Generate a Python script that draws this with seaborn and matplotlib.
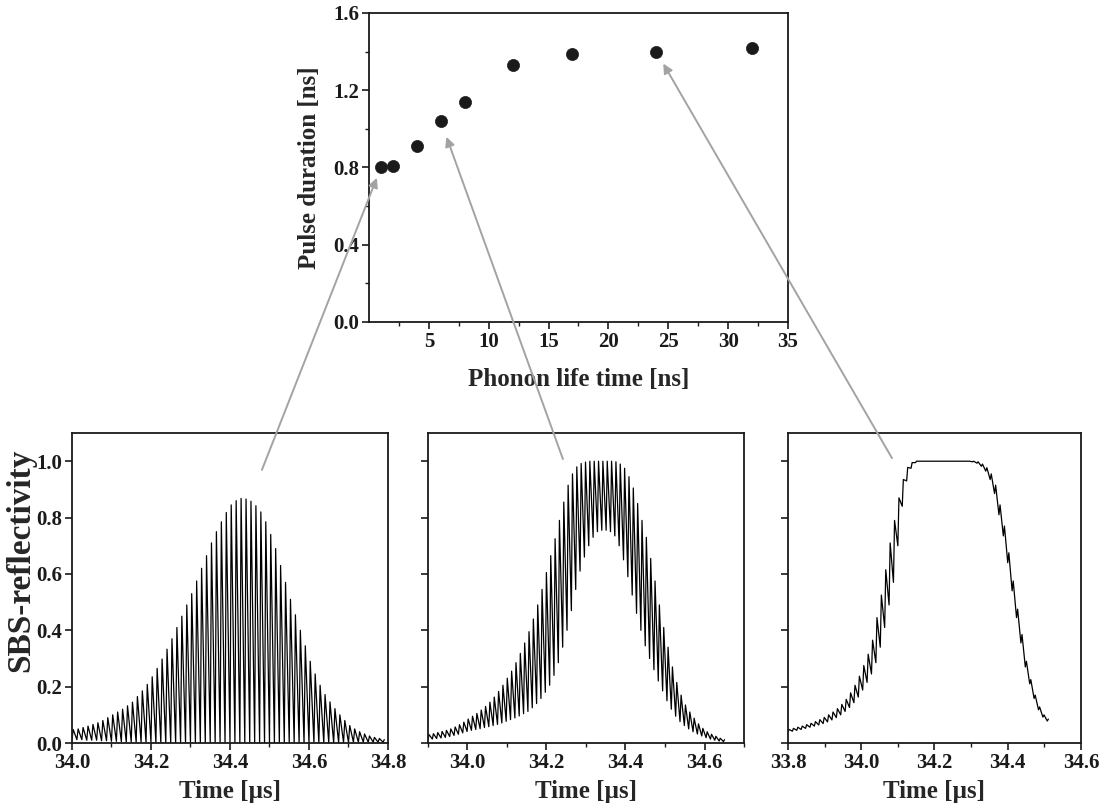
import numpy as np
import pandas as pd
import matplotlib
matplotlib.use("Agg")
import matplotlib.pyplot as plt
import seaborn as sns
from matplotlib.patches import ConnectionPatch
from matplotlib.ticker import MultipleLocator, FixedLocator

# ---- pulse duration vs. phonon life time ----
phonon_lifetime_ns = [1, 2, 4, 6, 8, 12, 17, 24, 32]
pulse_duration_ns = [0.80, 0.81, 0.91, 1.04, 1.14, 1.33, 1.39, 1.40, 1.42]

# ---- SBS reflectivity traces: one peak and one trough value per oscillation cycle ----
# tau = 1 ns
trace1_start_us = 34.0
trace1_period_us = 0.0125
trace1_peaks = [0.048, 0.050, 0.055, 0.060, 0.066, 0.072, 0.080, 0.090, 0.100, 0.110,
                0.120, 0.132, 0.145, 0.165, 0.185, 0.208, 0.235, 0.265, 0.298, 0.333,
                0.370, 0.410, 0.450, 0.490, 0.530, 0.575, 0.620, 0.665, 0.710, 0.750,
                0.785, 0.818, 0.845, 0.860, 0.868, 0.866, 0.858, 0.842, 0.820, 0.785,
                0.740, 0.690, 0.630, 0.570, 0.510, 0.455, 0.400, 0.345, 0.290, 0.245,
                0.205, 0.172, 0.146, 0.122, 0.100, 0.080, 0.062, 0.050, 0.040, 0.032,
                0.025, 0.020, 0.016, 0.012]
trace1_troughs = [0.012, 0.012, 0.012, 0.010, 0.010, 0.010, 0.008, 0.008, 0.006, 0.006,
                  0.005, 0.004, 0.004, 0.003, 0.003, 0.002, 0.002, 0.001, 0.001, 0.0,
                  0.0, 0.0, 0.0, 0.0, 0.0, 0.0, 0.0, 0.0, 0.0, 0.0,
                  0.0, 0.0, 0.0, 0.0, 0.0, 0.0, 0.0, 0.0, 0.0, 0.0,
                  0.0, 0.0, 0.0, 0.0, 0.0, 0.0, 0.0, 0.0, 0.0, 0.0,
                  0.0, 0.0, 0.001, 0.001, 0.002, 0.002, 0.002, 0.003, 0.003, 0.003,
                  0.003, 0.003, 0.003, 0.003]

# tau = 6 ns
trace2_start_us = 33.9
trace2_period_us = 0.011
trace2_peaks = [0.030, 0.033, 0.037, 0.041, 0.045, 0.050, 0.057, 0.065, 0.074, 0.085,
                0.095, 0.105, 0.117, 0.130, 0.145, 0.163, 0.183, 0.205, 0.230, 0.255,
                0.285, 0.318, 0.355, 0.395, 0.440, 0.490, 0.545, 0.605, 0.665, 0.725,
                0.790, 0.855, 0.915, 0.955, 0.980, 0.992, 0.997, 1.000, 1.000, 1.000,
                1.000, 1.000, 1.000, 0.998, 0.990, 0.975, 0.945, 0.905, 0.850, 0.790,
                0.730, 0.655, 0.575, 0.490, 0.410, 0.340, 0.270, 0.215, 0.170, 0.135,
                0.110, 0.088, 0.068, 0.052, 0.040, 0.031, 0.024, 0.017, 0.012]
trace2_troughs = [0.012, 0.014, 0.016, 0.018, 0.020, 0.023, 0.027, 0.031, 0.036, 0.041,
                  0.045, 0.048, 0.051, 0.055, 0.058, 0.062, 0.066, 0.071, 0.077, 0.083,
                  0.089, 0.096, 0.104, 0.112, 0.125, 0.140, 0.158, 0.180, 0.205, 0.240,
                  0.285, 0.340, 0.400, 0.470, 0.545, 0.610, 0.660, 0.700, 0.730, 0.750,
                  0.755, 0.755, 0.750, 0.735, 0.700, 0.650, 0.590, 0.525, 0.460, 0.400,
                  0.345, 0.300, 0.260, 0.220, 0.185, 0.150, 0.120, 0.095, 0.076, 0.062,
                  0.050, 0.040, 0.032, 0.025, 0.019, 0.014, 0.010, 0.007, 0.005]

# tau = 24 ns
trace3_start_us = 33.8
trace3_period_us = 0.012
trace3_peaks = [0.048, 0.052, 0.056, 0.060, 0.065, 0.070, 0.076, 0.083, 0.091, 0.100,
                0.110, 0.122, 0.137, 0.155, 0.178, 0.205, 0.237, 0.275, 0.315, 0.365,
                0.445, 0.525, 0.615, 0.710, 0.790, 0.870, 0.935, 0.978, 0.995, 1.000,
                1.000, 1.000, 1.000, 1.000, 1.000, 1.000, 1.000, 1.000, 1.000, 1.000,
                1.000, 1.000, 1.000, 0.998, 0.990, 0.977, 0.955, 0.915, 0.845, 0.770,
                0.675, 0.575, 0.475, 0.385, 0.290, 0.225, 0.170, 0.128, 0.100, 0.085]
trace3_troughs = [0.040, 0.042, 0.045, 0.048, 0.052, 0.056, 0.060, 0.064, 0.069, 0.075,
                  0.082, 0.090, 0.100, 0.112, 0.126, 0.143, 0.163, 0.188, 0.215, 0.245,
                  0.285, 0.340, 0.410, 0.490, 0.570, 0.700, 0.840, 0.930, 0.975, 0.995,
                  1.000, 1.000, 1.000, 1.000, 1.000, 1.000, 1.000, 1.000, 1.000, 1.000,
                  1.000, 1.000, 0.998, 0.993, 0.982, 0.965, 0.935, 0.885, 0.810, 0.735,
                  0.640, 0.540, 0.445, 0.355, 0.270, 0.210, 0.158, 0.118, 0.092, 0.078]

# ---- styling ----
sns.set_theme(style="ticks")
plt.rcParams["font.family"] = ["Liberation Serif", "DejaVu Serif"]
plt.rcParams["font.weight"] = "bold"
plt.rcParams["axes.labelweight"] = "bold"
plt.rcParams["axes.edgecolor"] = "#1a1a1a"
plt.rcParams["axes.linewidth"] = 1.3
plt.rcParams["xtick.color"] = "#1a1a1a"
plt.rcParams["ytick.color"] = "#1a1a1a"
plt.rcParams["text.color"] = "#1a1a1a"

TICK_FS = 15
LABEL_FS = 18
INK = "#1a1a1a"


def build_trace(start, period, peaks, troughs, rise=0.25):
    """Turn per-cycle trough/peak values into a time series for the line plot."""
    t, r = [], []
    for k, (p, q) in enumerate(zip(peaks, troughs)):
        tk = start + k * period
        t += [tk, tk + rise * period]
        r += [q, p]
    return pd.DataFrame({"time": t, "refl": r})


def style_axis(ax):
    ax.tick_params(axis="both", which="major", direction="out", length=5, width=1.2,
                   labelsize=TICK_FS, pad=2)
    ax.tick_params(axis="both", which="minor", direction="out", length=3, width=1.0)
    ax.tick_params(top=False, right=False, which="both")
    for s in ax.spines.values():
        s.set_visible(True)
        s.set_linewidth(1.3)
        s.set_color(INK)
    for lab in ax.get_xticklabels() + ax.get_yticklabels():
        lab.set_fontweight("bold")


fig = plt.figure(figsize=(11.07, 8.10), dpi=100)
fig.patch.set_facecolor("white")

# top scatter panel
ax_top = fig.add_axes([0.3333, 0.6025, 0.3785, 0.3815])
sns.scatterplot(x=phonon_lifetime_ns, y=pulse_duration_ns, ax=ax_top, s=76,
                color=INK, edgecolor=INK, linewidth=0.5, zorder=3)
ax_top.set_xlim(0, 35)
ax_top.set_ylim(0, 1.6)
ax_top.xaxis.set_major_locator(FixedLocator([5, 10, 15, 20, 25, 30, 35]))
ax_top.xaxis.set_minor_locator(FixedLocator([2.5, 7.5, 12.5, 17.5, 22.5, 27.5, 32.5]))
ax_top.yaxis.set_major_locator(MultipleLocator(0.4))
ax_top.yaxis.set_minor_locator(MultipleLocator(0.2))
ax_top.yaxis.set_major_formatter(matplotlib.ticker.FormatStrFormatter("%.1f"))
ax_top.set_xlabel("Phonon life time [ns]", fontsize=LABEL_FS, fontweight="bold", labelpad=12)
ax_top.set_ylabel("Pulse duration [ns]", fontsize=LABEL_FS, fontweight="bold", labelpad=9)
style_axis(ax_top)

# bottom trace panels
panels = [
    ([0.0650, 0.0827, 0.2855, 0.3827], (34.0, 34.8),
     build_trace(trace1_start_us, trace1_period_us, trace1_peaks, trace1_troughs)),
    ([0.3866, 0.0827, 0.2855, 0.3827], (33.9, 34.7),
     build_trace(trace2_start_us, trace2_period_us, trace2_peaks, trace2_troughs)),
    ([0.7118, 0.0827, 0.2647, 0.3827], (33.8, 34.6),
     build_trace(trace3_start_us, trace3_period_us, trace3_peaks, trace3_troughs)),
]

bottom_axes = []
for i, (rect, xlim, df) in enumerate(panels):
    ax = fig.add_axes(rect)
    sns.lineplot(data=df, x="time", y="refl", ax=ax, estimator=None, sort=False,
                 color="black", linewidth=0.9)
    ax.set_xlim(*xlim)
    ax.set_ylim(0, 1.1)
    ax.xaxis.set_major_locator(MultipleLocator(0.2))
    ax.xaxis.set_minor_locator(MultipleLocator(0.1))
    ax.yaxis.set_major_locator(MultipleLocator(0.2))
    ax.xaxis.set_major_formatter(matplotlib.ticker.FormatStrFormatter("%.1f"))
    ax.yaxis.set_major_formatter(matplotlib.ticker.FormatStrFormatter("%.1f"))
    ax.set_xlabel("Time [µs]", fontsize=LABEL_FS, fontweight="bold", labelpad=5)
    if i == 0:
        ax.set_ylabel("SBS-reflectivity", fontsize=24, fontweight="bold")
        ax.yaxis.set_label_coords(-0.112, 0.59)
    else:
        ax.set_ylabel("")
        ax.tick_params(axis="y", labelleft=False)
    style_axis(ax)
    bottom_axes.append(ax)

# grey arrows linking each trace to its point in the scatter panel
links = [(bottom_axes[0], (0.601, 0.881), 0, 8),
         (bottom_axes[1], (0.427, 0.916), 3, 12),
         (bottom_axes[2], (0.355, 0.919), 7, 10)]
for ax, tail, idx, shrink in links:
    con = ConnectionPatch(xyA=tail, coordsA=ax.transAxes,
                          xyB=(phonon_lifetime_ns[idx], pulse_duration_ns[idx]),
                          coordsB=ax_top.transData,
                          arrowstyle="-|>", shrinkA=0, shrinkB=shrink,
                          mutation_scale=14, color="#a3a3a3", linewidth=1.4)
    fig.add_artist(con)

fig.savefig("out.png", dpi=100, facecolor="white")
